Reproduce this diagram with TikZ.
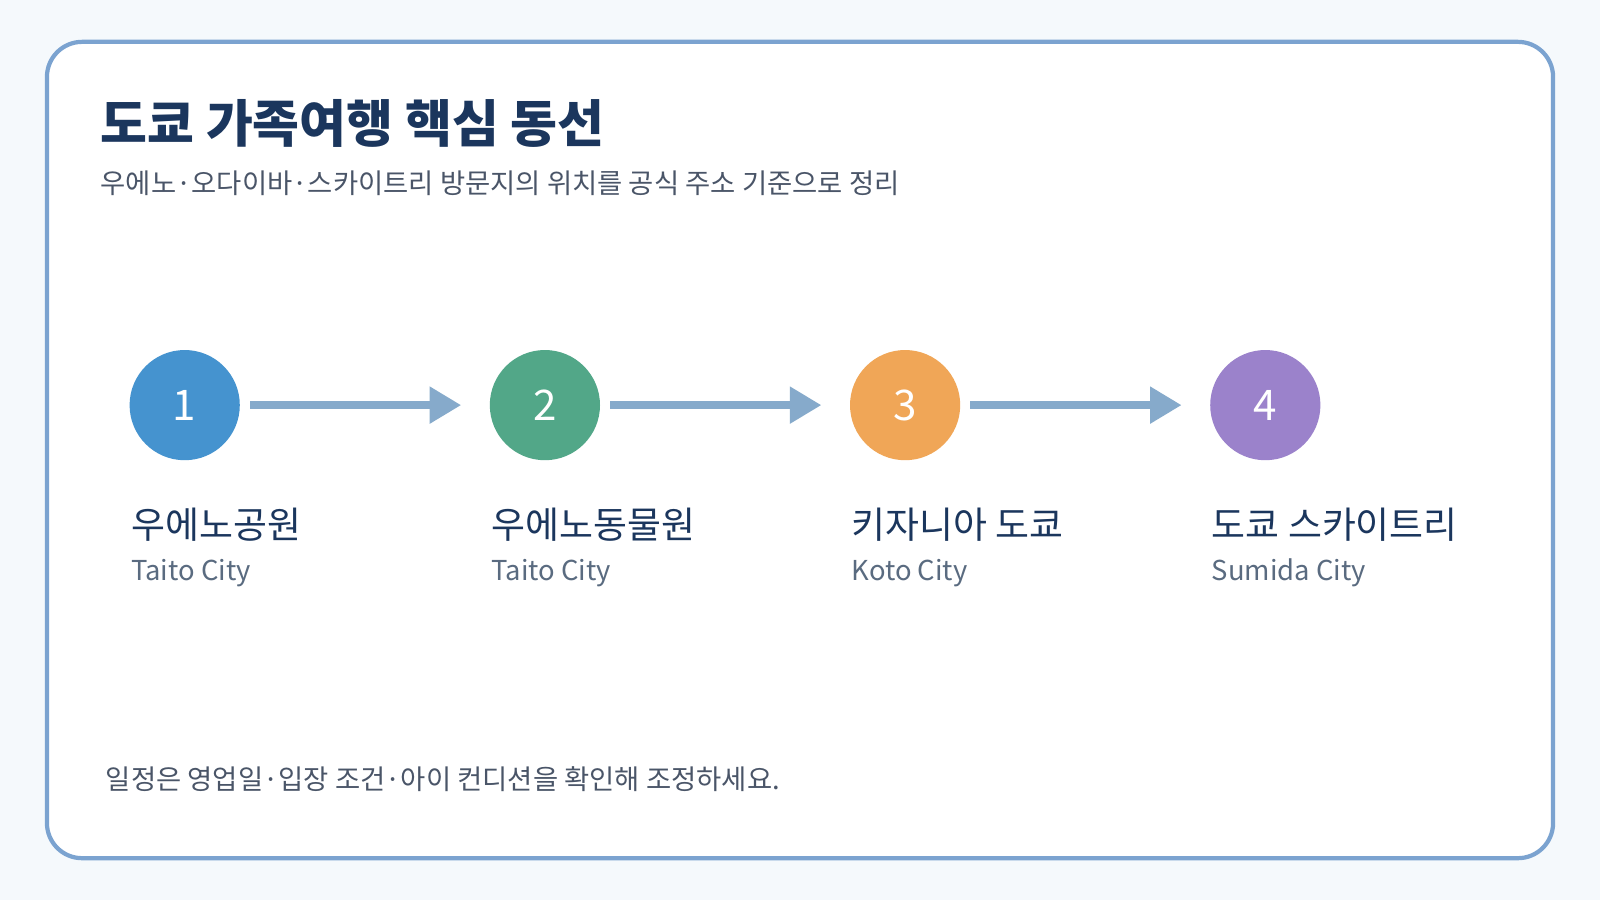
\documentclass[tikz,border=0pt]{standalone}
\usepackage{fontspec}
\setmainfont{Noto Sans CJK KR}
\usetikzlibrary{arrows.meta}
\definecolor{bg}{HTML}{F5F9FC}
\definecolor{frame}{HTML}{7BA3D0}
\definecolor{navy}{HTML}{1B365D}
\definecolor{gr}{HTML}{4A5568}
\definecolor{sub}{HTML}{5A6B80}
\definecolor{c1}{HTML}{4593CF}
\definecolor{c2}{HTML}{52A788}
\definecolor{c3}{HTML}{F0A657}
\definecolor{c4}{HTML}{9B82CB}
\definecolor{arr}{HTML}{86AACB}
\begin{document}
\begin{tikzpicture}[x=0.010204cm,y=-0.010204cm,
  stepnode/.style={circle,minimum size=108*0.010204cm,inner sep=0,text=white,font=\fontsize{12}{14}\selectfont},
  lab/.style={anchor=base west,text=navy,font=\fontsize{10.5}{12}\selectfont,inner sep=0},
  sublab/.style={anchor=base west,text=sub,font=\fontsize{7.8}{9}\selectfont,inner sep=0},
  link/.style={draw=arr,line width=2.3pt,-{Triangle[length=9pt,width=10pt]}}]
\fill[bg] (0,0) rectangle (1568,882);
\draw[frame,line width=1.2pt,fill=white,rounded corners=10pt] (46,41) rectangle (1522,841);
\node[anchor=base west,inner sep=0,text=navy,font=\fontsize{14.5}{16}\bfseries\selectfont] (t) at (98,140) {도쿄 가족여행 핵심 동선};
\node[anchor=base west,inner sep=0,text=gr,font=\fontsize{7.8}{9}\selectfont] (s) at (98,190) {우에노·오다이바·스카이트리 방문지의 위치를 공식 주소 기준으로 정리};
\node[stepnode,fill=c1] (n1) at (181,397) {1};
\node[stepnode,fill=c2] (n2) at (534,397) {2};
\node[stepnode,fill=c3] (n3) at (887,397) {3};
\node[stepnode,fill=c4] (n4) at (1240,397) {4};
\coordinate (a1s) at (245,397); \coordinate (a1e) at (452,397);
\coordinate (a2s) at (598,397); \coordinate (a2e) at (805,397);
\coordinate (a3s) at (951,397); \coordinate (a3e) at (1158,397);
\draw[link] (a1s) -- (a1e);
\draw[link] (a2s) -- (a2e);
\draw[link] (a3s) -- (a3e);
\node[lab] (l1) at (128,528) {우에노공원};
\node[lab] (l2) at (481,528) {우에노동물원};
\node[lab] (l3) at (834,528) {키자니아 도쿄};
\node[lab] (l4) at (1187,528) {도쿄 스카이트리};
\node[sublab] (s1) at (128,569) {Taito City};
\node[sublab] (s2) at (481,569) {Taito City};
\node[sublab] (s3) at (834,569) {Koto City};
\node[sublab] (s4) at (1187,569) {Sumida City};
\node[anchor=base west,inner sep=0,text=gr,font=\fontsize{7.8}{9}\selectfont] (f) at (103,774) {일정은 영업일·입장 조건·아이 컨디션을 확인해 조정하세요.};
\end{tikzpicture}
\end{document}
